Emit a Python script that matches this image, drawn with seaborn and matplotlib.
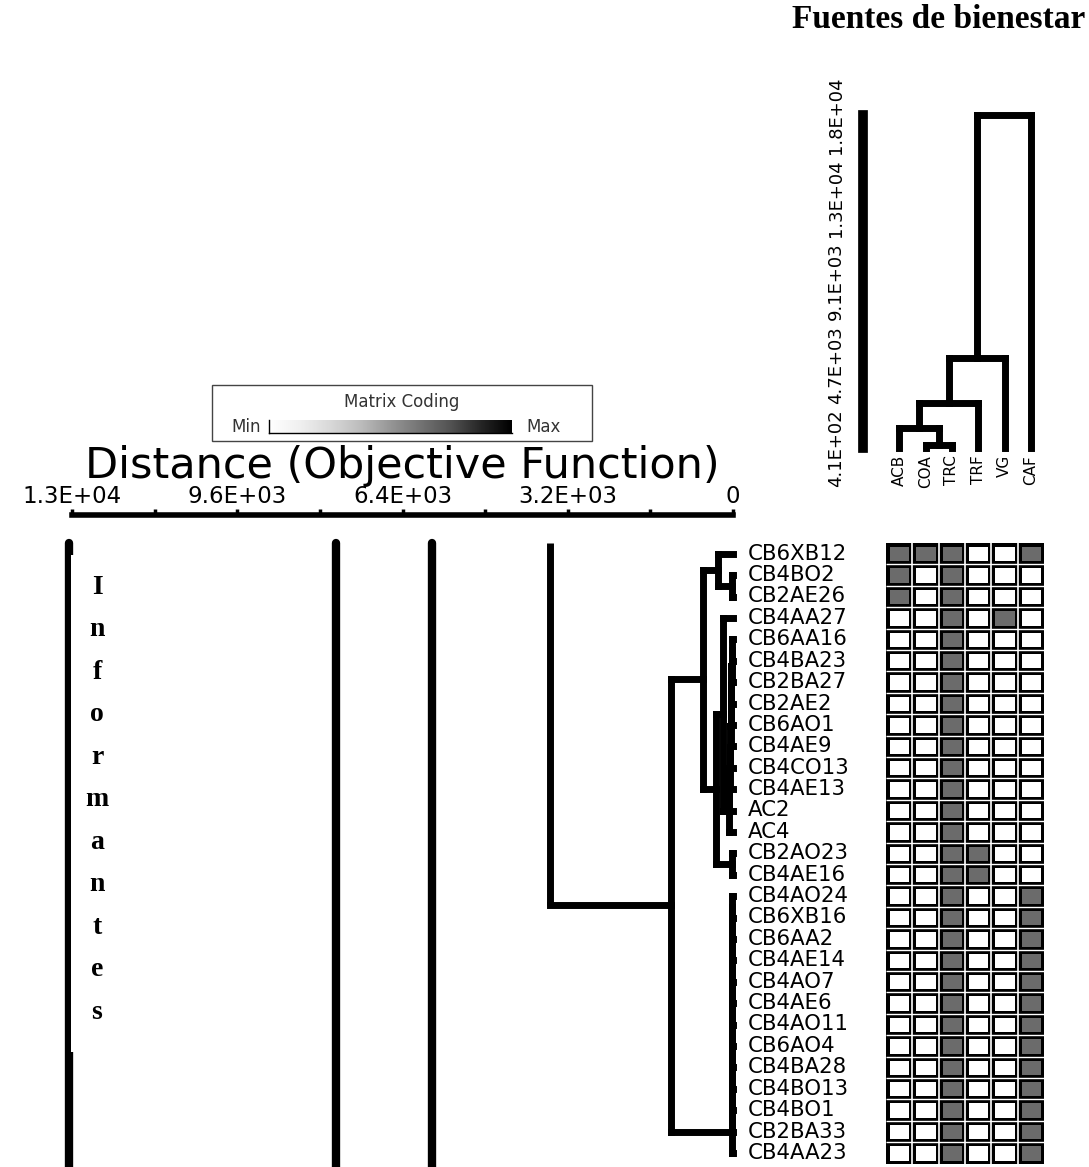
import numpy as np
import pandas as pd
import matplotlib
matplotlib.use("Agg")
import matplotlib.pyplot as plt
from matplotlib.colors import ListedColormap
from matplotlib.patches import Rectangle
import seaborn as sns

# informants (rows), already in dendrogram order
informantes = ["CB6XB12", "CB4BO2", "CB2AE26", "CB4AA27", "CB6AA16", "CB4BA23",
               "CB2BA27", "CB2AE2", "CB6AO1", "CB4AE9", "CB4CO13", "CB4AE13",
               "AC2", "AC4", "CB2AO23", "CB4AE16", "CB4AO24", "CB6XB16", "CB6AA2",
               "CB4AE14", "CB4AO7", "CB4AE6", "CB4AO11", "CB6AO4", "CB4BA28",
               "CB4BO13", "CB4BO1", "CB2BA33", "CB4AA23"]
fuentes = ["ACB", "COA", "TRC", "TRF", "VG", "CAF"]

# matrix coding (1 = grey cell)
ACB = [1, 1, 1, 0, 0, 0, 0, 0, 0, 0, 0, 0, 0, 0, 0, 0, 0, 0, 0, 0, 0, 0, 0, 0, 0, 0, 0, 0, 0]
COA = [1, 0, 0, 0, 0, 0, 0, 0, 0, 0, 0, 0, 0, 0, 0, 0, 0, 0, 0, 0, 0, 0, 0, 0, 0, 0, 0, 0, 0]
TRC = [1, 1, 1, 1, 1, 1, 1, 1, 1, 1, 1, 1, 1, 1, 1, 1, 1, 1, 1, 1, 1, 1, 1, 1, 1, 1, 1, 1, 1]
TRF = [0, 0, 0, 0, 0, 0, 0, 0, 0, 0, 0, 0, 0, 0, 1, 1, 0, 0, 0, 0, 0, 0, 0, 0, 0, 0, 0, 0, 0]
VG  = [0, 0, 0, 1, 0, 0, 0, 0, 0, 0, 0, 0, 0, 0, 0, 0, 0, 0, 0, 0, 0, 0, 0, 0, 0, 0, 0, 0, 0]
CAF = [1, 0, 0, 0, 0, 0, 0, 0, 0, 0, 0, 0, 0, 0, 0, 0, 1, 1, 1, 1, 1, 1, 1, 1, 1, 1, 1, 1, 1]

# row linkage: (child a, child b, distance); new clusters numbered from 29
row_links = [
    (1, 2, 10), (0, 29, 290),
    (4, 5, 20), (31, 6, 25), (32, 7, 30), (33, 8, 35), (34, 9, 40),
    (35, 10, 50), (36, 11, 60), (37, 12, 70), (38, 13, 80),
    (3, 39, 195), (14, 15, 10), (40, 41, 330), (30, 42, 580),
    (16, 17, 10), (44, 18, 10), (45, 19, 10), (46, 20, 10), (47, 21, 10),
    (48, 22, 10), (49, 23, 10), (50, 24, 10), (51, 25, 10), (52, 26, 10),
    (53, 27, 10), (54, 28, 10),
    (43, 55, 1200),
]
row_root = 3550                     # joins the visible block with rows above
row_outer = [5820, 7680, 12860]     # higher branches crossing the visible part

# column linkage (new clusters numbered from 6)
col_links = [(1, 2, 570), (0, 6, 1450), (7, 3, 2750), (8, 4, 5090), (9, 5, 17730)]

dist_ticks = [0, 3200, 6400, 9600, 12800]
dist_labels = ["0", "3.2E+03", "6.4E+03", "9.6E+03", "1.3E+04"]
col_ticks = [410, 4740, 9070, 13400, 17730]
col_labels = ["4.1E+02", "4.7E+03", "9.1E+03", "1.3E+04", "1.8E+04"]

sns.set_style("white")
plt.rcParams["font.family"] = ["DejaVu Sans"]
plt.rcParams["text.color"] = "black"
plt.rcParams["axes.labelcolor"] = "black"
plt.rcParams["xtick.color"] = "black"
plt.rcParams["ytick.color"] = "black"

W, H = 1089, 1167
fig = plt.figure(figsize=(W / 100, H / 100), dpi=100)


def frac_box(l, t, r, b):
    return [l / W, 1 - b / H, (r - l) / W, (b - t) / H]


def dendro_segments(links, n, base):
    pos = [i + 0.5 for i in range(n)]
    hgt = [base] * n
    segs = []
    for a, b, h in links:
        segs.append(((hgt[a], h), (pos[a], pos[a])))
        segs.append(((hgt[b], h), (pos[b], pos[b])))
        segs.append(((h, h), (pos[a], pos[b])))
        pos.append((pos[a] + pos[b]) / 2)
        hgt.append(h)
    return segs, pos, hgt


n_rows = len(informantes)
row_h = 21.4
grid_top = 543
grid_bot = grid_top + n_rows * row_h
hm_left, hm_right = 886, 1044
cell_w = (hm_right - hm_left) / len(fuentes)

# heatmap
df = pd.DataFrame({"ACB": ACB, "COA": COA, "TRC": TRC, "TRF": TRF, "VG": VG, "CAF": CAF},
                  index=informantes)
ax_hm = fig.add_axes(frac_box(hm_left, grid_top, hm_right, grid_bot))
sns.heatmap(df, ax=ax_hm, cmap=ListedColormap(["white", "#6b6b6b"]), vmin=0, vmax=1,
            cbar=False, linewidths=3.8, linecolor="black",
            xticklabels=False, yticklabels=informantes)
ax_hm.hlines(np.arange(1, n_rows), 0, len(fuentes), colors="white", lw=1)
ax_hm.vlines(np.arange(1, len(fuentes)), 0, n_rows, colors="white", lw=1.2)
ax_hm.tick_params(axis="y", length=0, pad=(hm_left - 748) * 0.72, labelsize=15.3)
for lbl in ax_hm.get_yticklabels():
    lbl.set_rotation(0)
    lbl.set_ha("left")
ax_hm.set_xlabel("")
ax_hm.set_ylabel("")

# row dendrogram
ax_row = fig.add_axes(frac_box(72, grid_top, 733, H))
ax_row.set_xlim(12800, 0)
ax_row.set_ylim(n_rows + (H - grid_bot) / row_h, 0)
segs, rpos, rhgt = dendro_segments(row_links, n_rows, 0)
for hr, pr in segs:
    ax_row.plot(hr, pr, color="black", lw=5, solid_capstyle="projecting", clip_on=False)
ax_row.plot([rhgt[-1], row_root], [rpos[-1], rpos[-1]], color="black", lw=5,
            solid_capstyle="projecting", clip_on=False)
ax_row.plot([row_root, row_root], [rpos[-1], 0], color="black", lw=5,
            solid_capstyle="butt", clip_on=False)
for h in row_outer:
    ax_row.axvline(h, color="black", lw=6, clip_on=False)

for s in ["left", "right", "bottom"]:
    ax_row.spines[s].set_visible(False)
ax_row.spines["top"].set_position(("outward", 20))
ax_row.spines["top"].set_linewidth(4)
ax_row.spines["top"].set_color("black")
ax_row.xaxis.tick_top()
ax_row.set_xticks(dist_ticks, dist_labels)
ax_row.set_xticks([1600, 4800, 8000, 11200], minor=True)
ax_row.tick_params(axis="x", which="both", direction="out", length=4, width=2.5,
                   color="black", labelsize=16.5, pad=1)
ax_row.set_yticks([])
ax_row.xaxis.set_label_position("top")
ax_row.set_xlabel("Distance (Objective Function)", fontsize=31, labelpad=5)

# column dendrogram
ax_col = fig.add_axes(frac_box(863, 115, hm_right, 448))
ax_col.set_xlim(-(hm_left - 863) / cell_w, len(fuentes))
ax_col.set_ylim(col_ticks[0], col_ticks[-1])
csegs, cpos, chgt = dendro_segments(col_links, len(fuentes), col_ticks[0])
for hr, pr in csegs:
    ax_col.plot(pr, hr, color="black", lw=5, solid_capstyle="projecting", clip_on=False)
for s in ["top", "right", "bottom"]:
    ax_col.spines[s].set_visible(False)
ax_col.spines["left"].set_linewidth(7)
ax_col.spines["left"].set_color("black")
ax_col.set_yticks(col_ticks)
ax_col.set_yticklabels(col_labels, rotation=90, va="center")
ax_col.set_yticks(np.convolve(col_ticks, [0.5, 0.5], mode="valid"), minor=True)
ax_col.tick_params(axis="y", which="both", direction="out", length=7, width=2,
                   color="black", labelsize=13, pad=6)
ax_col.set_xticks(np.arange(len(fuentes)) + 0.5)
ax_col.set_xticklabels(fuentes, rotation=90)
ax_col.tick_params(axis="x", length=0, labelsize=11, pad=5)

# legend box "Matrix Coding"
fig.patches.append(Rectangle((212 / W, 1 - 441 / H), 380 / W, 56 / H, transform=fig.transFigure,
                             facecolor="white", edgecolor="#444444", lw=1, zorder=0.5))
fig.text(402 / W, 1 - 402 / H, "Matrix Coding", ha="center", va="center", fontsize=12,
         color="#333333")
fig.text(246 / W, 1 - 427 / H, "Min", ha="center", va="center", fontsize=12, color="#333333")
fig.text(544 / W, 1 - 427 / H, "Max", ha="center", va="center", fontsize=12, color="#333333")
ax_leg = fig.add_axes(frac_box(269, 420, 512, 433))
ax_leg.set_zorder(2)
ax_leg.imshow(np.linspace(0, 1, 256)[None, :], cmap="Greys", aspect="auto")
ax_leg.set_xticks([])
ax_leg.set_yticks([])
for s in ["top", "right"]:
    ax_leg.spines[s].set_visible(False)
for s in ["left", "bottom"]:
    ax_leg.spines[s].set_color("black")
    ax_leg.spines[s].set_linewidth(1)

# white panel with the vertical "Informantes" label
fig.patches.append(Rectangle((70.5 / W, 1 - 1052 / H), 60 / W, 497 / H, transform=fig.transFigure,
                             facecolor="white", edgecolor="none"))
fig.text(97 / W, 1 - 575 / H, "\n".join("Informantes"), ha="center", va="top",
         family="Liberation Serif", weight="bold", fontsize=20, linespacing=1.92)

fig.text(1085 / W, 1 - 20 / H, "Fuentes de bienestar", ha="right", va="center",
         family="Liberation Serif", weight="bold", fontsize=24)

fig.savefig("out.png", dpi=100)
